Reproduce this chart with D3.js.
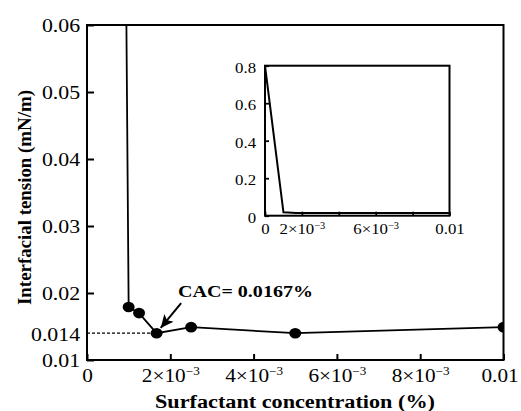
<!DOCTYPE html>
<html><head><meta charset="utf-8">
<script src="https://cdn.jsdelivr.net/npm/d3@7"></script>
<style>
body{margin:0;background:#fff}
text{font-family:"Liberation Serif","Times New Roman",serif;fill:#000}
</style>
</head><body>
<svg id="c" width="521" height="411"></svg>
<script>
// ---- data ----
const concentration = [0, 0.001, 0.00125, 0.00167, 0.0025, 0.005, 0.01];
const tension       = [0.8, 0.0179, 0.0170, 0.0140, 0.0149, 0.0140, 0.0149];
const mainXTicks  = [0, 0.002, 0.004, 0.006, 0.008, 0.01];
const mainXLabels = ["0", "2×10^−3", "4×10^−3", "6×10^−3", "8×10^−3", "0.01"];
const mainYTicks  = [0.01, 0.014, 0.02, 0.03, 0.04, 0.05, 0.06];
const mainYLabels = ["0.01", "0.014", "0.02", "0.03", "0.04", "0.05", "0.06"];
const insetXTicks  = [0, 0.002, 0.004, 0.006, 0.008, 0.01];
const insetXLabels = ["0", "2×10^−3", "", "6×10^−3", "", "0.01"];
const insetYTicks  = [0, 0.2, 0.4, 0.6, 0.8];
const insetYLabels = ["0", "0.2", "0.4", "0.6", "0.8"];
const cacConc = 0.00167, cacTension = 0.014;
const cacLabel = "CAC= 0.0167%";
const xTitle = "Surfactant concentration (%)";
const yTitle = "Interfacial tension (mN/m)";

const data = concentration.map((c, i) => ({c, t: tension[i]}));
const svg = d3.select("#c");

// ---- main plot ----
const M = {l: 87, r: 503.5, t: 25, b: 360};
const x = d3.scaleLinear().domain([0, 0.01]).range([M.l, M.r]);
const y = d3.scaleLinear().domain([0.01, 0.06]).range([M.b, M.t]);

svg.append("clipPath").attr("id", "mclip").append("rect")
  .attr("x", M.l).attr("y", M.t).attr("width", M.r - M.l).attr("height", M.b - M.t);

function setLabels(sel, labels, size, sx) {
  sel.selectAll(".tick text").each(function(d, i) {
    const t = d3.select(this);
    t.text(null).style("font-size", size + "px");
    const parts = labels[i].split("^");
    t.append("tspan").text(parts[0]);
    if (parts[1]) {
      t.append("tspan").attr("dy", -size * 0.38).style("font-size", (size * 0.62) + "px").text(parts[1]);
    }
    t.attr("transform", `scale(${sx},1)`);
  });
}

const gx = svg.append("g").attr("transform", `translate(0,${M.b})`)
  .call(d3.axisBottom(x).tickValues(mainXTicks).tickSize(-6).tickPadding(8.5));
gx.select(".domain").remove();
gx.selectAll(".tick line").attr("stroke-width", 2);
setLabels(gx, mainXLabels, 19, 1.12);
gx.selectAll(".tick text").filter(d => d === 0.01).attr("x", -3.5);

const gy = svg.append("g").attr("transform", `translate(${M.l},0)`)
  .call(d3.axisLeft(y).tickValues(mainYTicks).tickSize(-7).tickPadding(6));
gy.select(".domain").remove();
gy.selectAll(".tick line").attr("stroke-width", 2)
  .filter(d => d === 0.014).remove();
setLabels(gy, mainYLabels, 19, 1.15);
gy.selectAll(".tick text").attr("dy", "0.36em");

// dashed CAC guide
svg.append("line")
  .attr("x1", x(0)).attr("x2", x(cacConc))
  .attr("y1", y(cacTension)).attr("y2", y(cacTension))
  .attr("stroke", "#000").attr("stroke-width", 1.3).attr("stroke-dasharray", "3,2");

const gData = svg.append("g").attr("clip-path", "url(#mclip)");
gData.append("path").datum(data)
  .attr("d", d3.line().x(d => x(d.c)).y(d => y(d.t)))
  .attr("fill", "none").attr("stroke", "#000").attr("stroke-width", 1.8);
gData.selectAll("ellipse").data(data.filter(d => d.t <= 0.06)).join("ellipse")
  .attr("cx", d => x(d.c)).attr("cy", d => y(d.t))
  .attr("rx", 6).attr("ry", 5.3).attr("fill", "#000");

// frame
svg.append("rect").attr("x", M.l).attr("y", M.t)
  .attr("width", M.r - M.l).attr("height", M.b - M.t)
  .attr("fill", "none").attr("stroke", "#000").attr("stroke-width", 2);

// annotation
const defs = svg.append("defs");
defs.append("marker").attr("id", "ah").attr("markerUnits", "userSpaceOnUse")
  .attr("markerWidth", 14).attr("markerHeight", 12).attr("refX", 13).attr("refY", 6)
  .attr("orient", "auto")
  .append("path").attr("d", "M0,0 L13,6 L0,12 L3,6 Z").attr("fill", "#000");
svg.append("line")
  .attr("x1", x(0.00226)).attr("y1", y(0.0185))
  .attr("x2", x(0.00177)).attr("y2", y(0.01478))
  .attr("stroke", "#000").attr("stroke-width", 2).attr("marker-end", "url(#ah)");
svg.append("text").attr("x", x(0.002185)).attr("y", y(0.0194))
  .style("font-size", "17px").style("font-weight", "bold")
  .attr("textLength", 135).attr("lengthAdjust", "spacingAndGlyphs")
  .text(cacLabel);

// titles
svg.append("text").attr("x", (155 + 435) / 2).attr("y", 408)
  .attr("text-anchor", "middle").style("font-size", "18px").style("font-weight", "bold")
  .attr("textLength", 280).attr("lengthAdjust", "spacingAndGlyphs")
  .text(xTitle);
svg.append("text").attr("transform", "translate(31,197.5) rotate(-90)")
  .attr("text-anchor", "middle").style("font-size", "18px").style("font-weight", "bold")
  .attr("textLength", 215).attr("lengthAdjust", "spacingAndGlyphs")
  .text(yTitle);

// ---- inset ----
const I = {l: 265, r: 449.5, t: 65.7, b: 215.7};
const xi = d3.scaleLinear().domain([0, 0.01]).range([I.l, I.r]);
const yi = d3.scaleLinear().domain([0, 0.8]).range([I.b, I.t]);
svg.append("rect").attr("x", I.l).attr("y", I.t)
  .attr("width", I.r - I.l).attr("height", I.b - I.t).attr("fill", "#fff");
svg.append("clipPath").attr("id", "iclip").append("rect")
  .attr("x", I.l).attr("y", I.t).attr("width", I.r - I.l).attr("height", I.b - I.t);

const gxi = svg.append("g").attr("transform", `translate(0,${I.b})`)
  .call(d3.axisBottom(xi).tickValues(insetXTicks).tickSize(-4).tickPadding(8));
gxi.select(".domain").remove();
gxi.selectAll(".tick line").attr("stroke-width", 1.8);
setLabels(gxi, insetXLabels, 15, 1.12);

const gyi = svg.append("g").attr("transform", `translate(${I.l},0)`)
  .call(d3.axisLeft(yi).tickValues(insetYTicks).tickSize(-4).tickPadding(8));
gyi.select(".domain").remove();
gyi.selectAll(".tick line").attr("stroke-width", 1.8);
setLabels(gyi, insetYLabels, 15, 1.12);
gyi.selectAll(".tick text").attr("dy", "0.45em");

svg.append("g").attr("clip-path", "url(#iclip)")
  .append("path").datum(data)
  .attr("d", d3.line().x(d => xi(d.c)).y(d => yi(d.t)))
  .attr("fill", "none").attr("stroke", "#000").attr("stroke-width", 2);

svg.append("rect").attr("x", I.l).attr("y", I.t)
  .attr("width", I.r - I.l).attr("height", I.b - I.t)
  .attr("fill", "none").attr("stroke", "#000").attr("stroke-width", 2);
</script>
</body></html>
